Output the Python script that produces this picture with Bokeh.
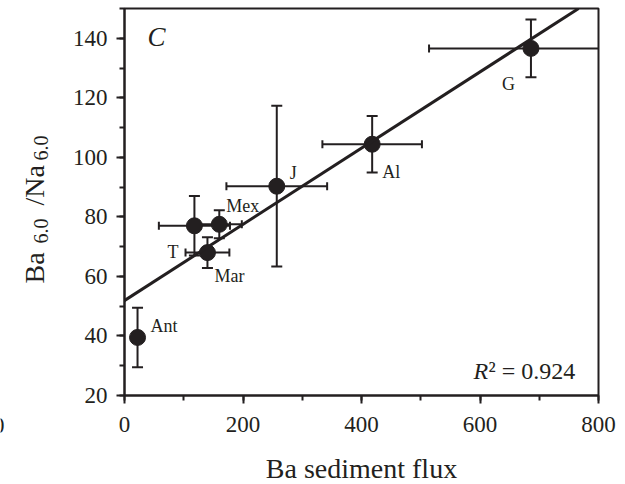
import numpy as np
from bokeh.plotting import figure
from bokeh.layouts import row, column
from bokeh.models import Range1d, Label, ColumnDataSource, SingleIntervalTicker, Slope
from bokeh.core.properties import value
from bokeh.embed import file_html
from bokeh.resources import INLINE

# Ba sediment flux vs Ba/Na ratio at 6.0, per site
sites = ["Ant", "T", "Mar", "Mex", "J", "Al", "G"]
flux = [22, 118, 140, 160, 257, 418, 686]
flux_err = [0, 60, 37, 38, 85, 84, 172]
ratio = [39.5, 77.0, 68.0, 77.5, 90.3, 104.4, 136.6]
ratio_err = [10.0, 10.0, 5.2, 4.7, 27.0, 9.5, 9.7]

# least-squares line and its fit quality
fit_intercept = 51.9
fit_slope = 0.128
r_squared = 0.924

INK = "#231f20"
SERIF = "Liberation Serif"

# label placement (pixel offsets from each point)
label_dx = [13, -27, 7, 7, 13, 10, -29]
label_dy = [-11, 26, 23, -18, -13, 28, 36]


def blank(width, height):
    """A bare canvas strip used only to hold titles."""
    f = figure(width=width, height=height, output_backend="svg", toolbar_location=None,
               x_range=Range1d(0, width), y_range=Range1d(0, height),
               x_axis_type=None, y_axis_type=None, min_border=0)
    f.grid.visible = False
    f.outline_line_color = None
    f.background_fill_color = "white"
    f.border_fill_color = "white"
    return f


def note(x, y, text, size, **kw):
    """Screen-positioned text whose baseline sits at (x, y)."""
    fs = float(size.rstrip("px"))
    angle = kw.pop("angle", 0.0)
    # Label anchors near the middle of the em box; move anchor to the baseline
    shift = 0.36 * fs
    if angle:
        x -= shift
    else:
        y += shift
    return Label(x=x, y=y, x_units="screen", y_units="screen", text=text, angle=angle,
                 text_font=SERIF, text_font_size=size, text_color=INK,
                 text_baseline="alphabetic", **kw)


# ---- main panel -------------------------------------------------------------
p = figure(width=565, height=454, output_backend="svg", toolbar_location=None,
           x_range=Range1d(0, 800), y_range=Range1d(20, 150),
           min_border_left=64, min_border_right=27,
           min_border_top=8, min_border_bottom=59)
p.grid.visible = False
p.background_fill_color = "white"
p.border_fill_color = "white"
p.outline_line_color = INK
p.outline_line_width = 2
p.outline_line_alpha = 1

p.xaxis.ticker = SingleIntervalTicker(interval=200, num_minor_ticks=2)
p.yaxis.ticker = SingleIntervalTicker(interval=20, num_minor_ticks=2)

for ax in (p.xaxis[0], p.yaxis[0]):
    ax.axis_line_color = INK
    ax.axis_line_width = 2
    ax.major_tick_line_color = INK
    ax.major_tick_line_width = 2
    ax.major_tick_in = 0
    ax.major_tick_out = 8
    ax.minor_tick_line_color = INK
    ax.minor_tick_line_width = 2
    ax.minor_tick_in = 0
    ax.minor_tick_out = 5
    ax.major_label_text_font = SERIF
    ax.major_label_text_font_size = "23px"
    ax.major_label_text_color = INK
p.xaxis.major_label_standoff = 13
p.yaxis.major_label_standoff = 9

f = np.array(flux, dtype=float)
fe = np.array(flux_err, dtype=float)
r = np.array(ratio, dtype=float)
re = np.array(ratio_err, dtype=float)
has_xerr = fe > 0

# vertical error bars with caps
p.segment(x0=f, y0=r - re, x1=f, y1=r + re, line_color=INK, line_width=2)
p.scatter(x=np.concatenate([f, f]), y=np.concatenate([r - re, r + re]),
          marker="dash", size=11, line_color=INK, line_width=2)

# horizontal error bars with caps
p.segment(x0=(f - fe)[has_xerr], y0=r[has_xerr], x1=(f + fe)[has_xerr], y1=r[has_xerr],
          line_color=INK, line_width=2)
p.scatter(x=np.concatenate([(f - fe)[has_xerr], (f + fe)[has_xerr]]),
          y=np.concatenate([r[has_xerr], r[has_xerr]]),
          marker="dash", angle=np.pi / 2, size=8, line_color=INK, line_width=2)

# regression line
p.add_layout(Slope(gradient=fit_slope, y_intercept=fit_intercept,
                   line_color=INK, line_width=3))

# site means
p.scatter(x=f, y=r, size=16, fill_color=INK, line_color=INK)

src = ColumnDataSource(dict(x=f, y=r, name=sites, dx=label_dx, dy=label_dy))
p.text(x="x", y="y", text="name", source=src, x_offset="dx", y_offset="dy",
       text_font=value(SERIF), text_font_size="18px", text_color=INK,
       text_align="left", text_baseline="alphabetic")

# panel letter
p.add_layout(note(23, 349, "C", "27px", text_font_style="italic", text_align="left"))

# R^2 annotation
p.add_layout(note(349, 16, "R", "24px", text_font_style="italic", text_align="left"))
p.add_layout(note(364, 16, "\u00b2 = %.3f" % r_squared, "24px", text_align="left"))

# ---- y-axis title strip (rotated, with subscripts) ---------------------------
side = blank(60, 484)
ytitle = [("Ba", 44, 201, "28px"), ("6.0", 48, 241, "20px"),
          ("/Na", 44, 279, "28px"), ("6.0", 48, 324, "20px")]
for txt, sx, sy, fs in ytitle:
    side.add_layout(note(sx, sy, txt, fs, angle=np.pi / 2, text_align="left"))

# edge of the neighbouring panel's tick label
side.add_layout(note(4, 51, "0", "23px", text_align="right"))

# ---- x-axis title strip (frame aligned with the panel above) -----------------
bottom = blank(565, 30)
bottom.add_layout(note(237, 6, "Ba sediment flux", "28px", text_align="center"))

layout = row(side, column(p, bottom, spacing=0), spacing=0)
open("out.html", "w").write(file_html(layout, INLINE))
